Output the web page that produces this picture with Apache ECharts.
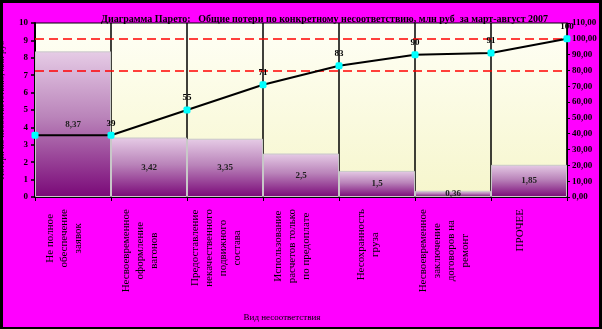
<!DOCTYPE html>
<html><head><meta charset="utf-8">
<script src="https://cdn.jsdelivr.net/npm/echarts@6/dist/echarts.min.js"></script>
<style>
html,body{margin:0;padding:0;background:#000;}
#wrap{position:relative;width:602px;height:329px;background:#000;overflow:hidden;}
#bg{position:absolute;left:3px;top:3px;width:596px;height:324px;background:#FF00FF;}
#c{position:absolute;left:0;top:0;width:602px;height:329px;}
</style>
</head><body>
<div id="wrap"><div id="bg"></div><div id="c"></div></div>
<script>
const titleText = 'Диаграмма Парето:   Общие потери по конкретному несоответствию, млн руб  за март-август 2007';
const categories = [
  'Не полное\nобеспечение\nзаявок',
  'Несвоевременное\nоформление\nвагонов',
  'Предоставление\nнекачественного\nподвижного\nсостава',
  'Использование\nрасчетов только\nпо предоплате',
  'Несохранность\nгруза',
  'Несвоевременное\nзаключение\nдоговоров на\nремонт',
  'ПРОЧЕЕ'
];
const losses = [8.37, 3.42, 3.35, 2.5, 1.5, 0.36, 1.85];
const cumulative = [39, 39, 55, 71, 83, 90, 91, 100];
const thresholds = [100, 80];
const xName = 'Вид несоответствия';
const yName = 'Потери по несоответствию, млн руб';

const FONT = '"Liberation Serif", "DejaVu Serif", serif';
const chart = echarts.init(document.getElementById('c'));
const comma = v => String(v).replace('.', ',');

chart.setOption({
  backgroundColor: 'transparent',
  animation: false,
  title: {
    text: titleText, left: 96, top: 9,
    textStyle: {fontFamily: FONT, fontSize: 10, fontWeight: 'bold', color: '#000'}
  },
  grid: {
    left: 35, right: 35, top: 23, bottom: 132, show: true,
    outerBoundsMode: 'none', containLabel: false,
    borderColor: '#000', borderWidth: 1,
    backgroundColor: new echarts.graphic.LinearGradient(0, 0, 0, 1, [
      {offset: 0, color: '#FFFFF6'}, {offset: 1, color: '#F6F6CC'}
    ])
  },
  xAxis: [{
    type: 'category', data: categories, boundaryGap: true,
    name: xName, nameLocation: 'middle', nameGap: 116,
    nameTextStyle: {fontFamily: FONT, fontSize: 9, color: '#000', padding: [0, 38, 0, 0]},
    axisLine: {lineStyle: {color: '#000', width: 2}},
    axisTick: {show: true, length: 4, lineStyle: {color: '#000'}},
    splitLine: {show: true, lineStyle: {color: '#000', width: 1.5}},
    axisLabel: {
      interval: 0, rotate: 90, margin: 12, padding: [0, 0, 18, 0],
      formatter: v => v.split('\n').map(s => '{c|' + s + '}').join('\n'),
      rich: {c: {align: 'center', fontFamily: FONT, fontSize: 11, lineHeight: 14, color: '#000'}}
    }
  }, {
    type: 'category', data: cumulative.map((_, i) => String(i)), boundaryGap: false,
    show: false
  }],
  yAxis: [{
    type: 'value', min: 0, max: 10, interval: 1,
    name: yName, nameLocation: 'middle', nameGap: 29, nameRotate: 90,
    nameTextStyle: {fontFamily: FONT, fontSize: 9, color: '#000'},
    axisLine: {show: true, lineStyle: {color: '#000', width: 2}},
    axisTick: {show: true, length: 4, lineStyle: {color: '#000', width: 1.5}},
    splitLine: {show: false},
    axisLabel: {fontFamily: FONT, fontSize: 9, fontWeight: 'bold', color: '#000', margin: 7}
  }, {
    type: 'value', min: 0, max: 110, interval: 10, position: 'right',
    axisLine: {show: true, lineStyle: {color: '#000', width: 1}},
    axisTick: {show: true, length: 3, lineStyle: {color: '#000'}},
    splitLine: {show: false},
    axisLabel: {fontFamily: FONT, fontSize: 9, fontWeight: 'bold', color: '#000', margin: 5,
      formatter: v => v.toFixed(2).replace('.', ',')}
  }],
  series: [{
    type: 'bar', data: losses, xAxisIndex: 0, yAxisIndex: 0,
    barCategoryGap: '0%', barGap: '0%',
    itemStyle: {
      borderColor: '#C8C8C8', borderWidth: 1,
      color: new echarts.graphic.LinearGradient(0, 0, 0, 1, [
        {offset: 0, color: '#E6CCE6'}, {offset: 0.45, color: '#BA84BA'}, {offset: 1, color: '#7A0878'}
      ])
    },
    label: {show: true, position: 'inside', formatter: p => comma(p.value),
      fontFamily: FONT, fontSize: 9, fontWeight: 'bold', color: '#222'}
  }, {
    type: 'line', data: cumulative, xAxisIndex: 1, yAxisIndex: 1,
    symbol: 'roundRect', symbolSize: 7,
    itemStyle: {color: '#00FFFF'},
    lineStyle: {color: '#000', width: 2},
    label: {show: true, position: 'top', distance: 4,
      formatter: p => p.dataIndex === 0 ? '' : String(p.value),
      fontFamily: FONT, fontSize: 9, fontWeight: 'bold', color: '#000'},
    markLine: {
      silent: true, symbol: 'none', label: {show: false},
      lineStyle: {color: '#FF0000', type: [9, 5], width: 1.5},
      data: thresholds.map(t => ({yAxis: t}))
    },
    z: 5
  }]
});
</script>
</body></html>
